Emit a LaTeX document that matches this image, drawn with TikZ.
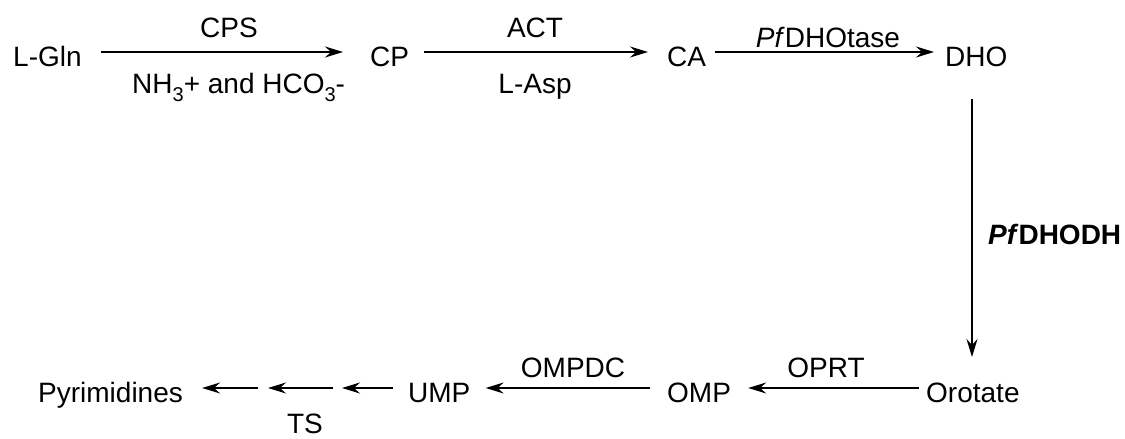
\documentclass[tikz,border=0pt]{standalone}
\usepackage{fontspec}
\setmainfont{Liberation Sans}
\usetikzlibrary{arrows.meta}
\newcommand{\sbt}[1]{\raisebox{-8pt}{\fontsize{20}{20}\selectfont #1}}
\begin{document}
\begin{tikzpicture}[x=1pt,y=-1pt,
  txt/.style={inner sep=0pt,font=\fontsize{28}{32}\selectfont},
  lbl/.style={inner sep=0pt,font=\fontsize{28}{32}\selectfont},
  arr/.style={line width=1.5pt,-{Stealth[length=18pt,width=11pt,inset=6pt]}}]
\useasboundingbox (0,0) rectangle (1125,439);
% top row species
\node[txt,anchor=base west] (lgln) at (13,66) {L-Gln};
\node[txt,anchor=base west] (cp) at (370,66) {CP};
\node[txt,anchor=base west] (ca) at (667,66) {CA};
\node[txt,anchor=base west] (dho) at (945,66) {DHO};
% bottom row species
\node[txt,anchor=base west] (orot) at (926,402) {Orotate};
\node[txt,anchor=base west] (omp) at (667,402) {OMP};
\node[txt,anchor=base west] (ump) at (408,402) {UMP};
\node[txt,anchor=base west] (pyr) at (38,402) {Pyrimidines};
% labels
\node[lbl,anchor=base] (cps) at (229,37) {CPS};
\node[lbl,anchor=base west] (nh) at (132,93) {NH\sbt{3}+ and HCO\sbt{3}-};
\node[lbl,anchor=base] (act) at (535,37) {ACT};
\node[lbl,anchor=base] (asp) at (535,93) {L-Asp};
\node[lbl,anchor=base] (dhot) at (828,47) {\textit{Pf}DHOtase};
\node[lbl,anchor=base west] (dhodh) at (988,244) {\textbf{\textit{Pf}DHODH}};
\node[lbl,anchor=base] (oprt) at (826,377) {OPRT};
\node[lbl,anchor=base] (ompdc) at (573,377) {OMPDC};
\node[lbl,anchor=base] (ts) at (305,433) {TS};
% arrows, top
\draw[arr] ([xshift=19pt,yshift=14pt]lgln.base east) -- ([xshift=-27pt,yshift=14pt]cp.base west);
\draw[arr] ([xshift=15pt,yshift=14pt]cp.base east) -- ([xshift=-19pt,yshift=14pt]ca.base west);
\draw[arr] ([xshift=9pt,yshift=14pt]ca.base east) -- ([xshift=-11pt,yshift=14pt]dho.base west);
% vertical
\coordinate (vtop) at (972,99);
\coordinate (vbot) at (972,357);
\draw[arr] (vtop) -- (vbot);
% bottom
\draw[arr] ([xshift=-7pt,yshift=14pt]orot.base west) -- ([xshift=17pt,yshift=14pt]omp.base east);
\draw[arr] ([xshift=-17pt,yshift=14pt]omp.base west) -- ([xshift=15pt,yshift=14pt]ump.base east);
\coordinate (c1s) at (333,388);
\coordinate (c1e) at (342,388);
\coordinate (c2s) at (258,388);
\coordinate (c2e) at (268,388);
\draw[arr] ([xshift=-15pt,yshift=14pt]ump.base west) -- (c1e);
\draw[arr] (c1s) -- (c2e);
\draw[arr] (c2s) -- ([xshift=19pt,yshift=14pt]pyr.base east);
\end{tikzpicture}
\end{document}
